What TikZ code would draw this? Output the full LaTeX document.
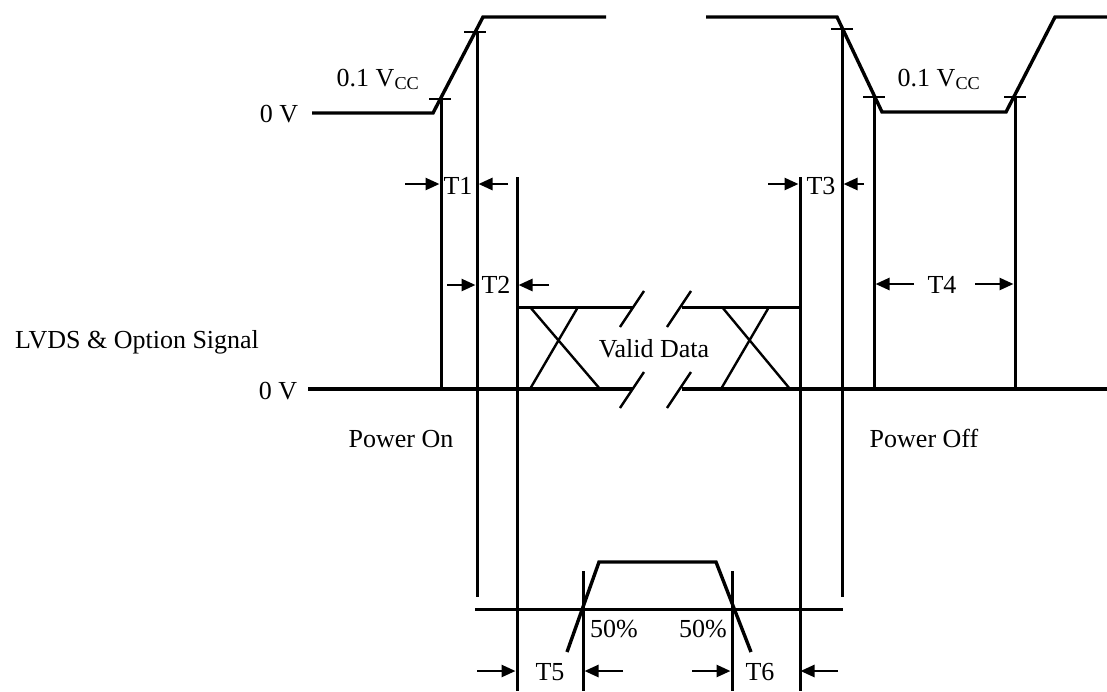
\documentclass[tikz,border=0pt]{standalone}
\usepackage{fontspec}
\setmainfont{Liberation Serif}
\usetikzlibrary{arrows.meta,positioning}
\tikzset{
  wave/.style={line width=3.4pt, line join=miter},
  guide/.style={line width=3pt},
  xline/.style={line width=2.4pt},
  dimarrow/.style={line width=2.6pt, -{Triangle[length=14pt,width=12pt]}},
}

\begin{document}
\begin{tikzpicture}[x=1pt, y=-1pt, every node/.style={font=\fontsize{26}{31}\selectfont, inner sep=0pt, anchor=base}]
    \useasboundingbox (0,0) rectangle (1107,691);

    % supply voltage
    \draw[wave] (312,113) -- (433,113) -- (483,17) -- (606,17);
    \draw[wave] (706,17) -- (837,17) -- (882,112) -- (1006,112) -- (1055,17) -- (1112,17);
    \foreach \tx/\ty in {440/99, 475/32, 842/29, 874/97, 1015/97}
        \draw[xline] (\tx-11,\ty) -- (\tx+11,\ty);

    % LVDS & option signal
    \draw[wave] (308,389) -- (633,389);
    \draw[wave] (682,389) -- (1112,389);
    \draw[guide] (517,307) -- (633,307);
    \draw[guide] (682,307) -- (800,307);
    \foreach \sx in {632, 679}{
        \draw[xline] (\sx-12,327) -- (\sx+12,291);
        \draw[xline] (\sx-12,408) -- (\sx+12,372);
    }
    \draw[xline] (530,307) -- (600,389) (578,307) -- (530,389);
    \draw[xline] (722,307) -- (790,389) (769,307) -- (721,389);

    % timing guides
    \foreach \gx/\gtop/\gbot in {441/99/389, 477/32/597, 517/177/691, 800/177/691,
                                842/29/597, 874/97/389, 1015/97/389, 583/571/691, 732/571/691}
        \draw[guide] (\gx,\gtop) -- (\gx,\gbot);

    % control signal
    \draw[guide] (475,609) -- (843,609);
    \draw[wave] (567,652) -- (599,562) -- (716,562) -- (751,652);

    % dimension arrows
    \draw[dimarrow] (405,184) -- (439.5,184);
    \draw[dimarrow] (508,184) -- (478.5,184);
    \draw[dimarrow] (447,285) -- (475.5,285);
    \draw[dimarrow] (549,285) -- (518.5,285);
    \draw[dimarrow] (768,184) -- (798.5,184);
    \draw[dimarrow] (864,184) -- (843.5,184);
    \draw[dimarrow] (914,284) -- (875.5,284);
    \draw[dimarrow] (975,284) -- (1013.5,284);
    \draw[dimarrow] (477,671) -- (515.5,671);
    \draw[dimarrow] (623,671) -- (584.5,671);
    \draw[dimarrow] (692,671) -- (730.5,671);
    \draw[dimarrow] (838,671) -- (800.5,671);

    % labels
    \node (vtop) at (279,122) {0 V};
    \node (vbot) at (278,399) {0 V};
    \node (lvds) at (137,348) {LVDS \& Option Signal};
    \node (vccon) at (378,86) {0.1 V\textsubscript{CC}};
    \node (vccoff) at (939,86) {0.1 V\textsubscript{CC}};
    \node (tone) at (458,194) {T1};
    \node (ttwo) at (496,293) {T2};
    \node (tthree) at (821,194) {T3};
    \node (tfour) at (942,293) {T4};
    \node (tfive) at (550,680) {T5};
    \node (tsix) at (760,680) {T6};
    \node (valid) at (654,357) {Valid Data};
    \node (pon) at (401,447) {Power On};
    \node (poff) at (924,447) {Power Off};
    \node (halfon) at (614,637) {50\%};
    \node (halfoff) at (703,637) {50\%};
\end{tikzpicture}
\end{document}
